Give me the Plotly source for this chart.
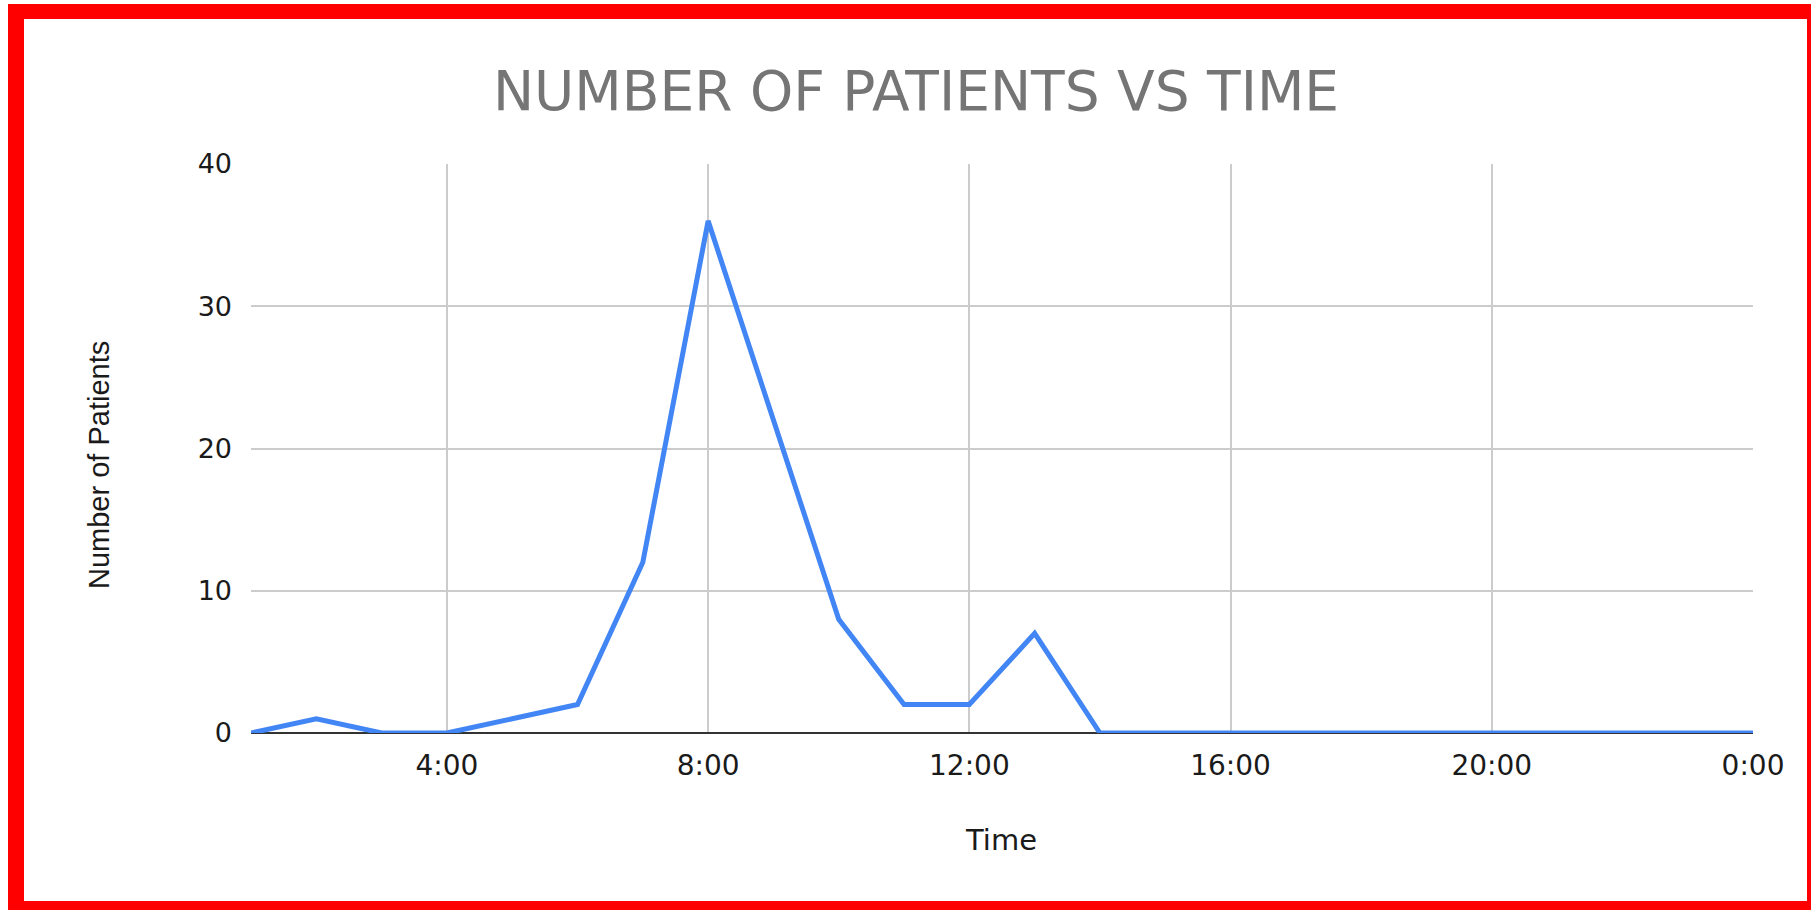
import plotly.graph_objects as go

# ---- data ----
hours = [1, 2, 3, 4, 5, 6, 7, 8, 9, 10, 11, 12, 13, 14, 15, 16, 17, 18, 19, 20, 21, 22, 23, 24]
patients = [0, 1, 0, 0, 1, 2, 12, 36, 22, 8, 2, 2, 7, 0, 0, 0, 0, 0, 0, 0, 0, 0, 0, 0]
x_tickvals = [4, 8, 12, 16, 20, 24]
x_ticktext = ["4:00", "8:00", "12:00", "16:00", "20:00", "0:00"]
y_tickvals = [0, 10, 20, 30, 40]

W, H = 1811, 910
ML, MR, MT, MB = 251, 58, 164, 177
PW = W - ML - MR
PH = H - MT - MB


def px_x(px):
    return (px - ML) / PW


def px_y(py):
    return (H - MB - py) / PH


fig = go.Figure()
fig.add_trace(go.Scatter(
    x=hours, y=patients, mode="lines",
    line=dict(color="#4285F4", width=5),
    hoverinfo="skip", showlegend=False,
))

# red frame
red_rects = [
    (8, 4, 24, 910),      # left
    (8, 4, 1811, 19),     # top
    (1807, 4, 1811, 910), # right
    (8, 901, 1811, 910),  # bottom
]
shapes = []
for x0, y0, x1, y1 in red_rects:
    shapes.append(dict(type="rect", xref="paper", yref="paper",
                       x0=px_x(x0), x1=px_x(x1), y0=px_y(y1), y1=px_y(y0),
                       fillcolor="#FF0000", line=dict(width=0), layer="above"))

fig.update_layout(
    width=W, height=H,
    margin=dict(l=ML, r=MR, t=MT, b=MB, pad=0),
    paper_bgcolor="white", plot_bgcolor="white",
    title=dict(text="NUMBER OF PATIENTS VS TIME", x=916 / W, xref="container",
               xanchor="center", y=1 - 91 / H, yref="container", yanchor="middle",
               font=dict(family="DejaVu Sans", size=55, color="#757575")),
    shapes=shapes,
    annotations=[
        dict(text="Number of Patients", textangle=-90, xref="paper", yref="paper",
             x=px_x(99), y=px_y(465), xanchor="center", yanchor="middle", showarrow=False,
             font=dict(family="Liberation Sans", size=29, color="#1a1a1a")),
        dict(text="Time", xref="paper", yref="paper",
             x=px_x(1001), y=px_y(840), xanchor="center", yanchor="middle", showarrow=False,
             font=dict(family="DejaVu Sans", size=29, color="#1a1a1a")),
    ],
    xaxis=dict(range=[1, 24], tickvals=x_tickvals, ticktext=x_ticktext,
               showgrid=True, gridcolor="#CCCCCC", gridwidth=2,
               zeroline=False, showline=False, ticks="", ticklabelstandoff=13,
               tickfont=dict(family="DejaVu Sans", size=28, color="#1a1a1a")),
    yaxis=dict(range=[0, 40], tickvals=y_tickvals,
               showgrid=True, gridcolor="#CCCCCC", gridwidth=2,
               zeroline=True, zerolinecolor="#333333", zerolinewidth=2,
               showline=False, ticks="", ticklabelstandoff=18,
               tickfont=dict(family="DejaVu Sans", size=27, color="#1a1a1a")),
)

fig.write_html("out.html")
